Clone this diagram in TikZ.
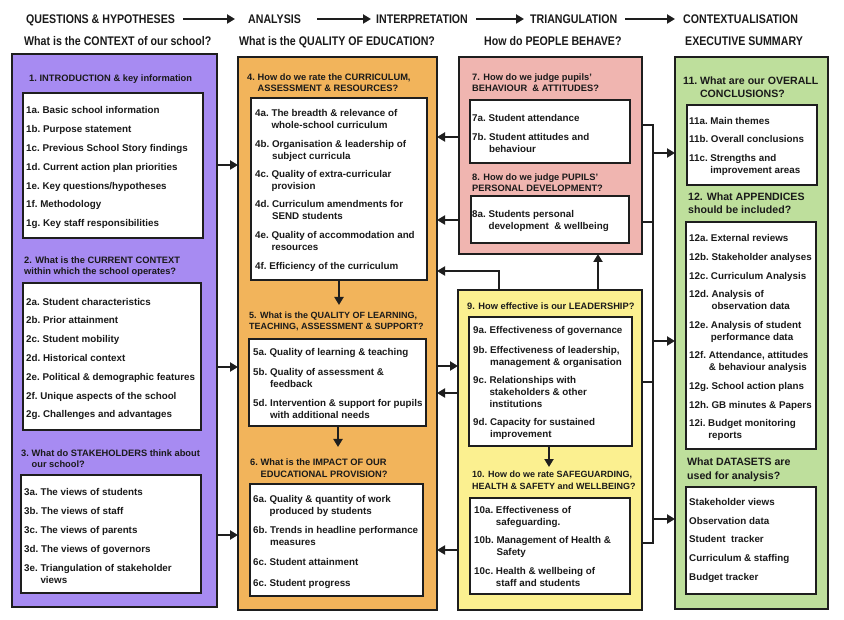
\documentclass[tikz,border=0pt]{standalone}
\usepackage{fontspec}
\setmainfont{Liberation Sans}
\newfontfamily\hdrfont[FakeStretch=0.85]{Liberation Sans Bold}
\usetikzlibrary{arrows.meta}
\definecolor{bd}{HTML}{1E1E1E}
\definecolor{txt}{HTML}{1A1A1A}
\definecolor{cP}{HTML}{A78BF2}
\definecolor{cO}{HTML}{F2B45B}
\definecolor{cK}{HTML}{F0B5B0}
\definecolor{cY}{HTML}{FBF090}
\definecolor{cG}{HTML}{BEDF9C}
\tikzset{
  box/.style={draw=bd, line width=2pt, inner sep=0pt, outer sep=0pt, anchor=north west},
  itm/.style={anchor=base west, inner sep=0pt, text=txt, font=\fontsize{9.8}{11.8}\selectfont\bfseries},
  ttl/.style={anchor=base west, inner sep=0pt, text=txt, font=\fontsize{9.3}{11.5}\selectfont\bfseries},
  ttlsm/.style={ttl, font=\fontsize{9.0}{11.5}\selectfont\bfseries},
  gttl/.style={anchor=base west, inner sep=0pt, text=txt, font=\fontsize{10.6}{13.5}\selectfont\bfseries},
  hd/.style={anchor=base west, inner sep=0pt, text=txt, text height=9pt, text depth=0pt, font=\hdrfont\fontsize{12.5}{14}\selectfont},
  arr/.style={draw=bd, line width=2pt, -{Triangle[length=8pt,width=9pt]}},
  lin/.style={draw=bd, line width=2pt},
}
\newcommand\mkbox[6]{\node[box,#6,minimum width={#4-#2},minimum height={#5-#3}] (#1) at (#2,#3) {};}
\newcommand\txtB[6]{\node[#1] (#2) at ({#3},{#4+3.5}) {\begin{tabular}[t]{@{}l@{\hspace{2.7pt}}l@{}}#5&#6\end{tabular}};}
\newcommand\txtS[5]{\node[#1] (#2) at ({#3},{#4+3.5}) {\begin{tabular}[t]{@{}l@{}}#5\end{tabular}};}
\begin{document}
\begin{tikzpicture}[x=1pt,y=-1pt]
\useasboundingbox (0,0) rectangle (844,620);
\fill[white] (0,0) rectangle (844,620);

% headers
\node[hd] (h1) at (26,23.5) {QUESTIONS \& HYPOTHESES};
\node[hd] (h2) at (248,23.5) {ANALYSIS};
\node[hd] (h3) at (376,23.5) {INTERPRETATION};
\node[hd] (h4) at (530,23.5) {TRIANGULATION};
\node[hd] (h5) at (683,23.5) {CONTEXTUALISATION};
\node[hd] (q1) at (24,45.5) {What is the CONTEXT of our school?};
\node[hd] (q2) at (239,45.5) {What is the QUALITY OF EDUCATION?};
\node[hd] (q3) at (484,45.5) {How do PEOPLE BEHAVE?};
\node[hd] (q4) at (685,45.5) {EXECUTIVE SUMMARY};
\coordinate (ha1) at (183,19); \coordinate (hb1) at (235,19);
\coordinate (ha2) at (317,19); \coordinate (hb2) at (371,19);
\coordinate (ha3) at (476,19); \coordinate (hb3) at (524,19);
\coordinate (ha4) at (625,19); \coordinate (hb4) at (675,19);
\draw[arr] (h1.east -| ha1) -- (h2.west -| hb1);
\draw[arr] (h2.east -| ha2) -- (h3.west -| hb2);
\draw[arr] (h3.east -| ha3) -- (h4.west -| hb3);
\draw[arr] (h4.east -| ha4) -- (h5.west -| hb4);

% column boxes
\mkbox{P}{12}{54}{217}{607}{fill=cP}
\mkbox{O}{238}{57}{437}{610}{fill=cO}
\mkbox{K}{459}{57}{642}{254}{fill=cK}
\mkbox{Y}{458}{290}{642}{610}{fill=cY}
\mkbox{G}{675}{57}{828}{609}{fill=cG}
% white boxes
\mkbox{W1}{23}{93}{203}{238}{fill=white}
\mkbox{W2}{23}{283}{201}{430}{fill=white}
\mkbox{W3}{21}{475}{201}{593}{fill=white}
\mkbox{W4}{251}{98}{427}{280}{fill=white}
\mkbox{W5}{249}{339}{426}{426}{fill=white}
\mkbox{W6}{250}{484}{423}{596}{fill=white}
\mkbox{W7}{470}{100}{630}{163}{fill=white}
\mkbox{W8}{471}{196}{629}{243}{fill=white}
\mkbox{W9}{469}{317}{632}{446}{fill=white}
\mkbox{W10}{470}{498}{630}{594}{fill=white}
\mkbox{W11}{687}{105}{817}{185}{fill=white}
\mkbox{W12}{686}{222}{816}{449}{fill=white}
\mkbox{WD}{686}{487}{816}{594}{fill=white}

% column 1
\txtB{ttl}{t1}{29}{78}{1.\hspace{6pt}}{INTRODUCTION \& key information}
\txtB{itm}{i1a}{26}{110}{1a.}{Basic school information}
\txtB{itm}{i1b}{26}{129}{1b.}{Purpose statement}
\txtB{itm}{i1c}{26}{148}{1c.}{Previous School Story findings}
\txtB{itm}{i1d}{26}{167}{1d.}{Current action plan priorities}
\txtB{itm}{i1e}{26}{186}{1e.}{Key questions/hypotheses}
\txtB{itm}{i1f}{26}{204}{1f.}{Methodology}
\txtB{itm}{i1g}{26}{223}{1g.}{Key staff responsibilities}
\txtS{ttl}{t2}{24}{260}{2. What is the CURRENT CONTEXT\\within which the school operates?}
\txtB{itm}{i2a}{26}{302}{2a.}{Student characteristics}
\txtB{itm}{i2b}{26}{320}{2b.}{Prior attainment}
\txtB{itm}{i2c}{26}{339}{2c.}{Student mobility}
\txtB{itm}{i2d}{26}{358}{2d.}{Historical context}
\txtB{itm}{i2e}{26}{377}{2e.}{Political \& demographic features}
\txtB{itm}{i2f}{26}{396}{2f.\ }{Unique aspects of the school}
\txtB{itm}{i2g}{26}{414}{2g.}{Challenges and advantages}
\txtB{ttl}{t3}{21}{453}{3.}{What do STAKEHOLDERS think about\\&our school?}
\txtB{itm}{i3a}{24}{492}{3a.}{The views of students}
\txtB{itm}{i3b}{24}{511}{3b.}{The views of staff}
\txtB{itm}{i3c}{24}{530}{3c.}{The views of parents}
\txtB{itm}{i3d}{24}{549}{3d.}{The views of governors}
\txtB{itm}{i3e}{24}{568}{3e.}{Triangulation of stakeholder\\&views}

% column 2
\txtB{ttl}{t4}{247}{77}{4.}{How do we rate the CURRICULUM,\\&ASSESSMENT \& RESOURCES?}
\txtB{itm}{i4a}{255}{113}{4a.}{The breadth \& relevance of\\&whole-school curriculum}
\txtB{itm}{i4b}{255}{144}{4b.}{Organisation \& leadership of\\&subject curricula}
\txtB{itm}{i4c}{255}{174}{4c.}{Quality of extra-curricular\\&provision}
\txtB{itm}{i4d}{255}{204}{4d.}{Curriculum amendments for\\&SEND students}
\txtB{itm}{i4e}{255}{235}{4e.}{Quality of accommodation and\\&resources}
\txtB{itm}{i4f}{255}{266}{4f.}{Efficiency of the curriculum}
\txtS{ttlsm}{t5}{249}{315}{5. What is the QUALITY OF LEARNING,\\TEACHING, ASSESSMENT \& SUPPORT?}
\txtB{itm}{i5a}{253}{352}{5a.}{Quality of learning \& teaching}
\txtB{itm}{i5b}{253}{372}{5b.}{Quality of assessment \&\\&feedback}
\txtB{itm}{i5d}{253}{403}{5d.}{Intervention \& support for pupils\\&with additional needs}
\txtB{ttl}{t6}{250}{462}{6.}{What is the IMPACT OF OUR\\&EDUCATIONAL PROVISION?}
\txtB{itm}{i6a}{253}{499}{6a.}{Quality \& quantity of work\\&produced by students}
\txtB{itm}{i6b}{253}{530}{6b.}{Trends in headline performance\\&measures}
\txtB{itm}{i6c}{253}{562}{6c.}{Student attainment}
\txtB{itm}{i6d}{253}{583}{6c.}{Student progress}

% column 3
\txtS{ttl}{t7}{472}{77}{7. How do we judge pupils'\\BEHAVIOUR\ \ \& ATTITUDES?}
\txtB{itm}{i7a}{472}{118}{7a.}{Student attendance}
\txtB{itm}{i7b}{472}{137}{7b.}{Student attitudes and\\&behaviour}
\txtS{ttl}{t8}{472}{177}{8. How do we judge PUPILS'\\PERSONAL DEVELOPMENT?}
\txtB{itm}{i8a}{472}{214}{8a.}{Students personal\\&development\ \ \& wellbeing}
\txtS{ttl}{t9}{467}{306}{9. How effective is our LEADERSHIP?}
\txtB{itm}{i9a}{473}{330}{9a.}{Effectiveness of governance}
\txtB{itm}{i9b}{473}{350}{9b.}{Effectiveness of leadership,\\&management \& organisation}
\txtB{itm}{i9c}{473}{380}{9c.}{Relationships with\\&stakeholders \& other\\&institutions}
\txtB{itm}{i9d}{473}{422}{9d.}{Capacity for sustained\\&improvement}
\txtS{ttlsm}{t10}{472}{474}{10. How do we rate SAFEGUARDING,\\HEALTH \& SAFETY and WELLBEING?}
\txtB{itm}{i10a}{474}{510}{10a.}{Effectiveness of\\&safeguarding.}
\txtB{itm}{i10b}{474}{540}{10b.}{Management of Health \&\\&Safety}
\txtB{itm}{i10c}{474}{571}{10c.}{Health \& wellbeing of\\&staff and students}

% column 4
\txtB{gttl}{t11}{683}{81}{11.}{What are our OVERALL\\&CONCLUSIONS?}
\txtB{itm}{i11a}{689}{121}{11a.}{Main themes}
\txtB{itm}{i11b}{689}{139}{11b.}{Overall conclusions}
\txtB{itm}{i11c}{689}{158}{11c.}{Strengths and\\&improvement areas}
\txtS{gttl}{t12}{688}{197}{12. What APPENDICES\\should be included?}
\txtB{itm}{i12a}{689}{238}{12a.}{External reviews}
\txtB{itm}{i12b}{689}{257}{12b.}{Stakeholder analyses}
\txtB{itm}{i12c}{689}{276}{12c.}{Curriculum Analysis}
\txtB{itm}{i12d}{689}{294}{12d.}{Analysis of\\&observation data}
\txtB{itm}{i12e}{689}{325}{12e.}{Analysis of student\\&performance data}
\txtB{itm}{i12f}{689}{355}{12f.\ }{Attendance, attitudes\\&\& behaviour analysis}
\txtB{itm}{i12g}{689}{386}{12g.}{School action plans}
\txtB{itm}{i12h}{689}{405}{12h.}{GB minutes \& Papers}
\txtB{itm}{i12i}{689}{423}{12i.\ }{Budget monitoring\\&reports}
\txtS{gttl}{tds}{687}{462}{What DATASETS are\\used for analysis?}
\txtS{itm}{d1}{689}{502}{Stakeholder views}
\txtS{itm}{d2}{689}{521}{Observation data}
\txtS{itm}{d3}{689}{539}{Student\ \ tracker}
\txtS{itm}{d4}{689}{558}{Curriculum \& staffing}
\txtS{itm}{d5}{689}{577}{Budget tracker}

% connectors col1 -> col2
\coordinate (a1) at (0,165); \coordinate (a2) at (0,367); \coordinate (a3) at (0,535);
\draw[arr] (P.east |- a1) -- (O.west |- a1);
\draw[arr] (P.east |- a2) -- (O.west |- a2);
\draw[arr] (P.east |- a3) -- (O.west |- a3);
% col3 -> col2
\coordinate (b1) at (0,137); \coordinate (b2) at (0,220);
\draw[arr] (K.west |- b1) -- (O.east |- b1);
\draw[arr] (K.west |- b2) -- (O.east |- b2);
\coordinate (yl) at (499,271); \coordinate (yr) at (598,0);
\draw[arr] (Y.north -| yl) |- (O.east |- yl);
\draw[arr] (Y.north -| yr) -- (K.south -| yr);
\coordinate (d1) at (0,366); \coordinate (d2) at (0,393); \coordinate (d3) at (0,550);
\draw[arr] (O.east |- d1) -- (Y.west |- d1);
\draw[arr] (Y.west |- d2) -- (O.east |- d2);
\draw[arr] (Y.west |- d3) -- (O.east |- d3);
% internal down arrows
\coordinate (e1) at (339,305); \coordinate (e2) at (338,447); \coordinate (e3) at (549,467);
\draw[arr] (W4.south -| e1) -- (e1);
\draw[arr] (W5.south -| e2) -- (e2);
\draw[arr] (W9.south -| e3) -- (e3);
% col3 -> col4 bus
\coordinate (f1) at (653,125); \coordinate (f2) at (653,222);
\coordinate (f3) at (653,382); \coordinate (f4) at (653,543);
\draw[lin] (K.east |- f1) -- (f1) -- (f4) -- (Y.east |- f4);
\draw[lin] (K.east |- f2) -- (f2);
\draw[lin] (Y.east |- f3) -- (f3);
\coordinate (g1) at (653,153); \coordinate (g2) at (653,341); \coordinate (g3) at (653,519);
\draw[arr] (g1) -- (G.west |- g1);
\draw[arr] (g2) -- (G.west |- g2);
\draw[arr] (g3) -- (G.west |- g3);
\end{tikzpicture}
\end{document}
